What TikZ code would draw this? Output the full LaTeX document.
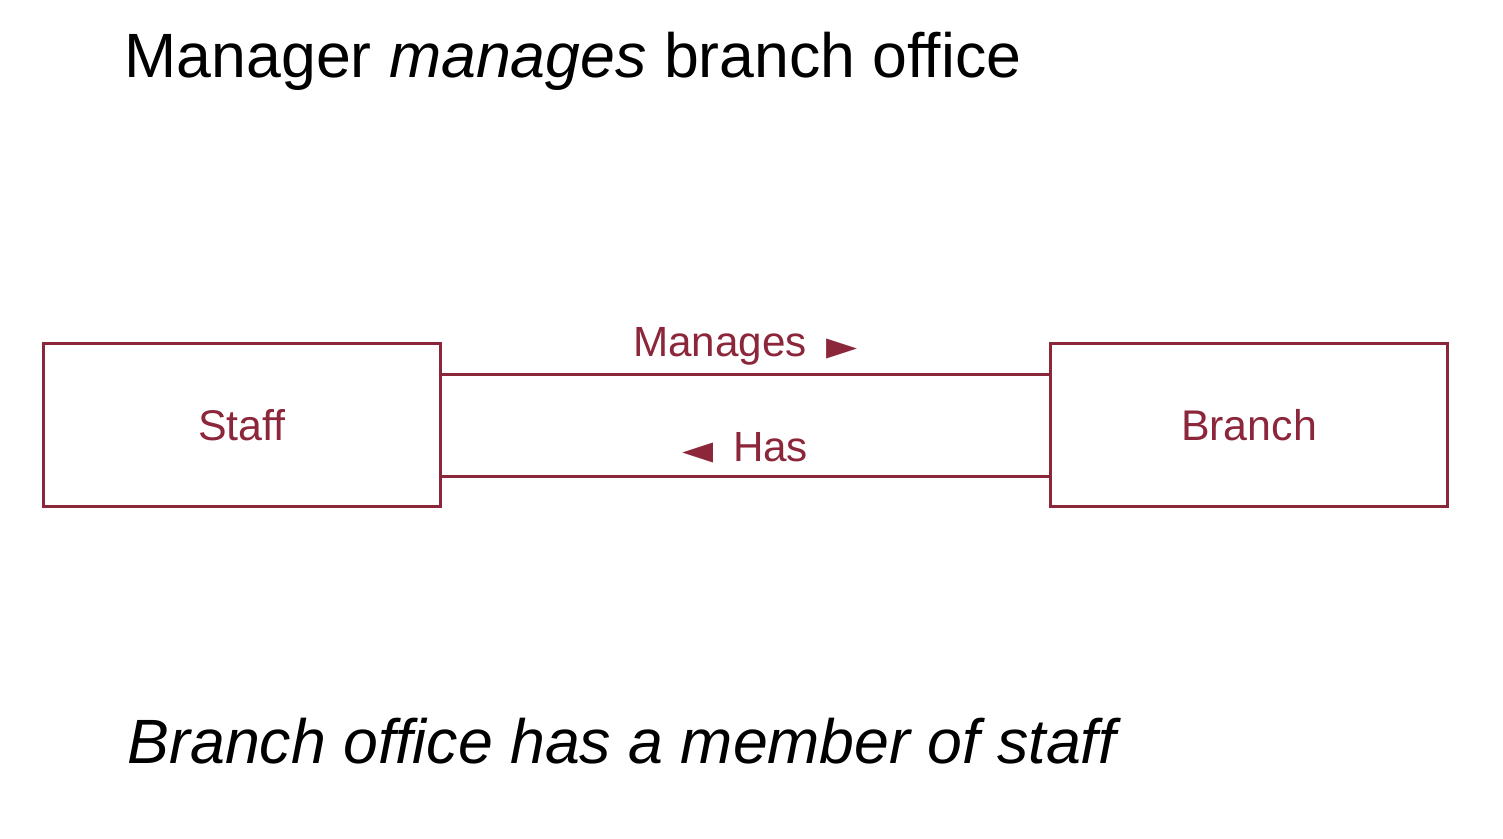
\documentclass[tikz,border=0pt]{standalone}
\usepackage{fontspec}
\setmainfont{Liberation Sans}
\newfontfamily\symfont{DejaVu Sans}
\usetikzlibrary{positioning,calc}
\definecolor{erred}{RGB}{140,38,58}
\newcommand{\reltri}[1]{{\symfont\fontsize{11.5}{12}\selectfont\raisebox{-0.1ex}{#1}}}
\tikzset{
  entity/.style={draw=erred,line width=0.85pt,minimum width=3.96cm,minimum height=1.62cm,inner sep=0pt,text=erred,font=\fontsize{12.2}{14}\selectfont},
  rel/.style={draw=erred,line width=0.85pt},
  rellabel/.style={text=erred,font=\fontsize{12}{14}\selectfont,anchor=base,inner sep=0pt}
}

\begin{document}
\begin{tikzpicture}[x=0.01cm,y=-0.01cm]
\useasboundingbox (0,0) rectangle (1503,838);
%headings
\node[anchor=base west,inner sep=0pt,font=\fontsize{17.8}{21}\selectfont](top) at (124,77){Manager \textit{manages} branch office};
\node[anchor=base west,inner sep=0pt,font=\fontsize{17.8}{21}\selectfont\itshape](bottom) at (127,763){Branch office has a member of staff};
%entities
\node[entity](staff) at (242,425){Staff};
\node[entity](branch) at (1249,425){Branch};
%relationships
\draw[rel] ([yshift=0.5cm]staff.east)--([yshift=0.5cm]branch.west)node[rellabel,pos=0.5,yshift=0.18cm](manages){Manages\hspace{0.2cm}\reltri{►}};
\draw[rel] ([yshift=-0.51cm]staff.east)--([yshift=-0.51cm]branch.west)node[rellabel,pos=0.5,yshift=0.15cm](has){\reltri{◄}\hspace{0.19cm}Has};
\end{tikzpicture}
\end{document}
